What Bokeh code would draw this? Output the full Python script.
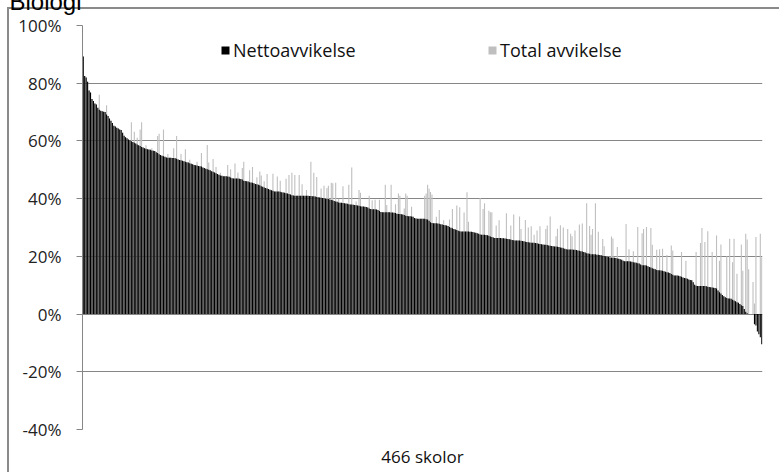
from bokeh.plotting import figure
from bokeh.models import (ColumnDataSource, Range1d, FixedTicker, PrintfTickFormatter,
                          Legend, LegendItem, Title)
from bokeh.embed import file_html
from bokeh.resources import INLINE

title_text = "Biologi"
x_label = "466 skolor"
series_names = ["Nettoavvikelse", "Total avvikelse"]
y_ticks = [-40, -20, 0, 20, 40, 60, 80, 100]

# Nettoavvikelse (%), 466 schools, sorted descending
net = [
    89.3, 82.5, 82.0, 80.5, 77.5, 76.8, 74.5, 73.8, 73.0, 72.6,
    71.5, 70.8, 70.5, 70.3, 70.1, 70.0, 69.2, 68.6, 67.8, 67.0,
    66.2, 65.3, 65.0, 64.6, 64.3, 64.0, 63.8, 62.8, 61.8, 61.3,
    60.9, 60.5, 60.2, 59.9, 59.6, 59.4, 59.1, 58.8, 58.5, 58.2,
    57.9, 57.7, 57.5, 57.3, 57.1, 57.0, 56.9, 56.7, 56.6, 56.5,
    56.1, 55.8, 55.4, 55.1, 54.9, 54.7, 54.5, 54.3, 54.2, 54.2,
    54.2, 54.1, 54.1, 54.0, 53.8, 53.6, 53.4, 53.3, 53.1, 53.0,
    52.8, 52.6, 52.5, 52.3, 52.1, 51.9, 51.7, 51.6, 51.5, 51.3,
    51.2, 51.1, 50.8, 50.6, 50.4, 50.2, 50.0, 49.8, 49.5, 49.3,
    49.1, 48.8, 48.5, 48.3, 48.0, 47.9, 47.8, 47.8, 47.8, 47.7,
    47.6, 47.3, 47.1, 47.0, 47.0, 47.0, 47.0, 46.9, 46.8, 46.6,
    46.2, 46.1, 46.0, 45.9, 45.7, 45.6, 45.5, 45.3, 45.1, 45.0,
    44.8, 44.6, 44.3, 44.1, 43.9, 43.7, 43.5, 43.3, 43.1, 42.9,
    42.7, 42.5, 42.5, 42.5, 42.5, 42.4, 42.2, 42.1, 42.0, 41.9,
    41.8, 41.6, 41.4, 41.2, 41.1, 41.0, 41.0, 41.0, 41.0, 41.0,
    41.0, 41.0, 41.0, 41.0, 41.0, 40.9, 40.9, 40.8, 40.8, 40.7,
    40.6, 40.5, 40.4, 40.3, 40.2, 40.1, 40.0, 39.9, 39.9, 39.7,
    39.5, 39.4, 39.2, 39.0, 38.9, 38.7, 38.6, 38.6, 38.5, 38.4,
    38.3, 38.2, 38.1, 38.0, 38.0, 37.9, 37.8, 37.7, 37.6, 37.5,
    37.4, 37.3, 37.3, 37.2, 37.1, 36.9, 36.6, 36.4, 36.3, 36.3,
    36.3, 36.2, 36.1, 35.7, 35.4, 35.3, 35.3, 35.3, 35.3, 35.3,
    35.3, 35.2, 35.2, 35.1, 35.0, 34.8, 34.7, 34.7, 34.6, 34.5,
    34.3, 34.1, 34.0, 33.9, 33.9, 33.8, 33.7, 33.3, 33.1, 33.0,
    33.0, 33.0, 33.0, 33.0, 33.0, 32.9, 32.8, 32.3, 31.8, 31.6,
    31.5, 31.5, 31.5, 31.4, 31.3, 31.1, 31.0, 30.9, 30.8, 30.7,
    30.5, 30.2, 29.9, 29.7, 29.5, 29.3, 29.1, 28.9, 28.7, 28.6,
    28.6, 28.6, 28.6, 28.6, 28.6, 28.5, 28.5, 28.4, 28.3, 28.2,
    28.0, 27.8, 27.6, 27.5, 27.5, 27.5, 27.4, 27.3, 27.1, 26.9,
    26.7, 26.5, 26.4, 26.4, 26.4, 26.4, 26.4, 26.3, 26.3, 26.2,
    26.1, 26.0, 25.9, 25.8, 25.7, 25.6, 25.5, 25.5, 25.5, 25.5,
    25.4, 25.3, 25.2, 25.1, 25.0, 24.9, 24.8, 24.7, 24.7, 24.7,
    24.6, 24.5, 24.4, 24.3, 24.2, 24.1, 24.0, 24.0, 23.9, 23.8,
    23.7, 23.6, 23.5, 23.4, 23.4, 23.3, 23.2, 23.1, 23.0, 22.8,
    22.6, 22.5, 22.4, 22.4, 22.4, 22.4, 22.3, 22.3, 22.2, 22.0,
    21.9, 21.8, 21.7, 21.5, 21.3, 21.1, 21.0, 20.9, 20.7, 20.7,
    20.7, 20.7, 20.6, 20.6, 20.5, 20.4, 20.2, 20.1, 20.0, 19.9,
    19.8, 19.6, 19.5, 19.5, 19.5, 19.4, 19.3, 19.2, 19.0, 18.8,
    18.5, 18.3, 18.3, 18.3, 18.3, 18.2, 18.1, 18.0, 17.9, 17.8,
    17.6, 17.5, 17.2, 16.9, 16.9, 16.9, 16.8, 16.6, 16.3, 16.1,
    15.9, 15.7, 15.5, 15.3, 15.2, 15.2, 15.1, 15.0, 14.8, 14.7,
    14.5, 14.4, 14.2, 13.9, 13.6, 13.4, 13.4, 13.4, 13.3, 13.1,
    12.9, 12.7, 12.5, 12.4, 12.2, 12.0, 11.8, 11.7, 11.0, 10.2,
    9.8, 9.7, 9.7, 9.7, 9.7, 9.7, 9.7, 9.6, 9.5, 9.4,
    9.3, 9.2, 9.1, 9.0, 8.9, 8.2, 7.6, 7.1, 6.6, 6.2,
    5.8, 5.6, 5.4, 5.4, 5.3, 5.0, 4.7, 4.4, 4.1, 3.9,
    3.5, 3.1, 2.8, 1.8, 0.8, 0.3, 0.0, 0.0, 0.0, 0.0,
    -3.5, -4.0, -6.0, -7.0, -8.0, -10.5,
]

# Total avvikelse (%), same schools
total = [
    89.3, 82.5, 82.0, 80.5, 77.5, 76.8, 74.5, 73.8, 73.0, 72.6,
    71.5, 76.0, 70.5, 70.3, 70.1, 70.0, 72.4, 68.6, 67.8, 67.0,
    66.2, 65.3, 65.0, 64.6, 64.3, 64.0, 63.8, 62.8, 61.8, 61.3,
    60.9, 60.5, 60.2, 66.5, 59.6, 63.2, 59.1, 61.1, 58.5, 64.0,
    66.5, 57.7, 57.5, 58.5, 57.1, 57.0, 56.9, 57.5, 56.6, 56.5,
    56.1, 61.7, 62.5, 55.1, 54.9, 64.0, 54.5, 54.3, 55.5, 54.2,
    54.2, 54.1, 57.5, 54.0, 61.7, 53.6, 53.4, 55.5, 53.1, 53.0,
    57.1, 52.6, 52.5, 53.5, 52.1, 51.9, 51.7, 51.6, 52.8, 51.3,
    51.2, 55.8, 50.8, 50.6, 50.4, 58.6, 52.5, 49.8, 49.5, 53.7,
    49.1, 51.0, 48.5, 48.3, 49.0, 47.9, 47.8, 47.8, 47.8, 51.7,
    47.6, 50.2, 47.1, 47.0, 52.2, 47.0, 49.1, 46.9, 46.8, 50.6,
    52.8, 46.1, 46.0, 45.9, 49.8, 45.6, 51.0, 45.3, 45.1, 47.4,
    44.8, 49.4, 48.0, 44.1, 46.0, 43.7, 48.5, 43.3, 43.1, 42.9,
    48.6, 42.5, 42.5, 47.7, 42.5, 46.2, 42.2, 42.1, 42.0, 46.9,
    41.8, 48.2, 41.4, 49.0, 41.1, 48.2, 41.0, 41.0, 48.2, 41.0,
    45.0, 41.0, 41.0, 43.0, 41.0, 40.9, 52.8, 40.8, 49.0, 40.7,
    47.5, 40.5, 40.4, 43.5, 40.2, 44.5, 40.0, 43.7, 44.5, 39.7,
    45.5, 45.3, 39.2, 45.5, 38.9, 40.0, 38.6, 38.6, 44.3, 38.4,
    38.3, 38.2, 44.8, 38.0, 50.8, 37.9, 37.8, 39.0, 37.6, 43.0,
    42.0, 37.3, 37.3, 37.2, 37.1, 36.9, 41.0, 36.4, 39.4, 36.3,
    39.6, 36.2, 36.1, 39.6, 35.4, 35.3, 35.3, 44.8, 37.8, 35.3,
    35.3, 44.8, 35.2, 35.1, 38.1, 34.8, 41.8, 41.0, 34.6, 34.5,
    36.6, 41.8, 41.0, 33.9, 33.9, 37.2, 33.7, 33.3, 33.1, 33.0,
    33.0, 33.0, 33.0, 33.0, 41.0, 41.8, 44.8, 43.4, 42.3, 41.4,
    31.5, 31.5, 33.7, 31.4, 36.1, 31.1, 31.0, 32.5, 30.8, 30.7,
    30.5, 32.8, 29.9, 36.4, 29.5, 29.3, 37.6, 28.9, 37.0, 28.6,
    28.6, 35.2, 28.6, 42.2, 32.0, 28.5, 28.5, 28.4, 28.3, 28.2,
    28.0, 27.8, 40.2, 27.5, 36.4, 38.4, 27.4, 27.3, 35.8, 35.3,
    35.3, 26.5, 26.4, 30.7, 26.4, 32.5, 26.4, 26.3, 26.3, 26.2,
    34.9, 26.0, 25.9, 30.7, 25.7, 34.5, 25.5, 25.5, 25.5, 33.8,
    29.5, 25.3, 25.2, 32.6, 25.0, 30.0, 24.8, 30.4, 24.7, 27.5,
    24.6, 29.0, 24.4, 30.4, 24.2, 24.1, 24.0, 29.5, 30.7, 23.8,
    33.8, 23.6, 23.5, 23.4, 27.0, 29.6, 23.2, 30.8, 23.0, 30.0,
    22.6, 22.5, 29.5, 22.4, 27.8, 27.0, 22.3, 29.0, 22.2, 22.0,
    31.0, 21.8, 31.4, 21.5, 21.3, 38.4, 21.0, 30.5, 27.5, 29.5,
    20.7, 38.4, 20.6, 28.5, 20.5, 20.4, 26.0, 23.5, 20.0, 19.9,
    19.8, 19.6, 26.9, 26.2, 19.5, 19.4, 23.2, 19.2, 19.0, 18.8,
    18.5, 18.3, 31.2, 18.3, 22.5, 18.2, 18.1, 21.8, 17.9, 17.8,
    30.2, 17.5, 17.2, 28.0, 29.5, 16.9, 30.2, 16.6, 16.3, 29.8,
    24.0, 15.7, 15.5, 22.3, 15.2, 22.5, 15.1, 22.6, 14.8, 14.7,
    20.5, 14.4, 14.2, 23.8, 22.0, 13.4, 13.4, 13.4, 13.3, 13.1,
    21.5, 12.7, 12.5, 18.5, 12.2, 12.0, 11.8, 11.7, 11.0, 10.2,
    21.5, 9.7, 9.7, 24.6, 29.8, 9.7, 25.0, 9.6, 28.7, 9.4,
    9.3, 21.5, 9.1, 9.0, 27.2, 8.2, 18.5, 24.1, 6.6, 6.2,
    5.8, 20.0, 5.4, 26.1, 5.3, 18.0, 26.1, 4.4, 14.0, 3.9,
    3.5, 24.1, 15.0, 1.8, 27.8, 25.8, 15.5, 0.0, 0.0, 11.1,
    3.7, 26.7, 0.0, 0.0, 27.8, 19.7,
]

n = len(net)
src = ColumnDataSource(dict(x=list(range(n)), net=net, total=total))

SHIFT = 30  # canvas starts above the page top so the title is clipped as in the reference
p = figure(width=779, height=472 + SHIFT, output_backend="svg", toolbar_location=None,
           x_range=Range1d(-0.5, n - 0.5), y_range=Range1d(-40, 100),
           min_border_left=82, min_border_right=17, min_border_top=25 + SHIFT,
           min_border_bottom=43)
p.margin = (-SHIFT, 0, 0, 0)
p.outline_line_color = None
p.background_fill_color = "white"
p.border_fill_alpha = 0.0
p.styles = {
    "background-color": "white",
    "background-image": "linear-gradient(#8a8a8a, #8a8a8a), linear-gradient(#8a8a8a, #8a8a8a)",
    "background-position": "7px %dpx, 7px %dpx" % (7 + SHIFT, 7 + SHIFT),
    "background-size": "2px 100%, 100% 2px",
    "background-repeat": "no-repeat",
}

p.add_layout(Title(text=title_text, align="left", offset=-73, standoff=21,
                   text_font="Liberation Sans", text_font_size="24px",
                   text_font_style="normal", text_color="#000000"), "above")

r_tot = p.vbar(x="x", top="total", bottom=0, width=0.75, source=src,
               fill_color="#bfbfbf", line_color=None)
r_net = p.vbar(x="x", top="net", bottom=0, width=0.75, source=src,
               fill_color="#000000", line_color=None)

# axes
p.xgrid.visible = False
p.ygrid.grid_line_color = "#868686"
p.ygrid.grid_line_width = 1
p.yaxis.ticker = FixedTicker(ticks=y_ticks)
p.yaxis.formatter = PrintfTickFormatter(format="%d%%")
p.yaxis.axis_line_color = "#868686"
p.yaxis.major_tick_line_color = "#868686"
p.yaxis.major_tick_out = 6
p.yaxis.major_tick_in = 0
p.yaxis.minor_tick_line_color = None
p.yaxis.major_label_standoff = 15
p.yaxis.major_label_text_font = "Open Sans"
p.yaxis.major_label_text_font_size = "17px"
p.yaxis.major_label_text_color = "#222222"

p.xaxis.ticker = FixedTicker(ticks=[])
p.xaxis.axis_line_color = None
p.xaxis.major_tick_line_color = None
p.xaxis.minor_tick_line_color = None
p.xaxis.major_tick_out = 0
p.xaxis.axis_label = x_label
p.xaxis.axis_label_standoff = 15
p.xaxis.axis_label_text_font = "Open Sans"
p.xaxis.axis_label_text_font_style = "normal"
p.xaxis.axis_label_text_font_size = "17px"
p.xaxis.axis_label_text_color = "#111111"

# legends
def make_legend(label, rend, loc):
    lg = Legend(items=[LegendItem(label=label, renderers=[rend])], location=loc,
                orientation="horizontal", border_line_color=None, background_fill_alpha=0,
                padding=0, margin=0, spacing=0, glyph_width=10, glyph_height=10,
                label_standoff=3, label_text_font="Open Sans", label_text_font_size="18px",
                label_text_color="#111111")
    return lg

p.add_layout(make_legend(series_names[0], r_net, (138, 367)))
p.add_layout(make_legend(series_names[1], r_tot, (405, 367)))

open("out.html", "w").write(file_html(p, INLINE))
